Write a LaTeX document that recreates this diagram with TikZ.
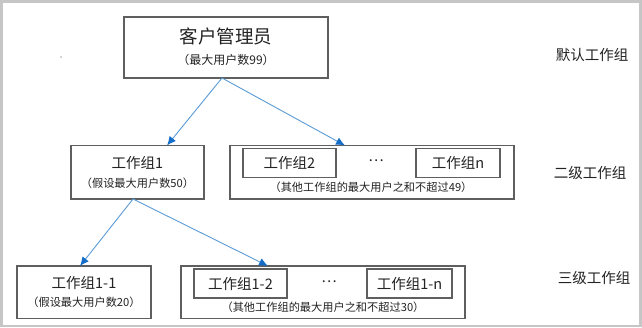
\documentclass[tikz,border=0pt]{standalone}
\usepackage{fontspec}
\setmainfont{Noto Sans CJK SC}
\usetikzlibrary{arrows.meta}
\definecolor{framegray}{RGB}{198,198,198}
\definecolor{boxgray}{RGB}{95,95,95}
\definecolor{lineblue}{RGB}{91,155,213}
\definecolor{headblue}{RGB}{20,110,200}
\definecolor{txt}{RGB}{35,35,35}
\begin{document}
\begin{tikzpicture}[x=1pt,y=-1pt,
  box/.style={draw=boxgray,line width=1.2pt,inner sep=0pt,outer sep=0pt},
  inbox/.style={draw=boxgray,line width=1.1pt,inner sep=0pt,outer sep=0pt,minimum height=29pt},
  title/.style={text=txt,inner sep=0pt,font=\fontsize{14.5}{16}\selectfont},
  bigtitle/.style={text=txt,inner sep=0pt,font=\fontsize{18.5}{20}\selectfont},
  sub/.style={text=txt,inner sep=0pt,font=\fontsize{11.2}{12}\selectfont},
  topsubst/.style={text=txt,inner sep=0pt,font=\fontsize{12}{13}\selectfont},
  side/.style={text=txt,inner sep=0pt,font=\fontsize{14.5}{16}\selectfont},
  arr/.style={draw=lineblue,line width=0.9pt,-{Latex[length=9pt,width=8pt,color=headblue]}}
]
\useasboundingbox (0,0) rectangle (642,327);
\fill[framegray] (0,0) rectangle (642,327);
\fill[white] (3,3) rectangle (639,324.5);
\fill[black!70] (61,57) circle (0.6);

% level 1
\node[box,minimum width=204pt,minimum height=61pt] (top) at (226,47.5) {};
\node[bigtitle] (toptitle) at (226,36) {客户管理员};
\node[topsubst] (topsub) at (226,60) {（最大用户数99）};
\node[side] (lab1) at (592,55) {默认工作组};

% level 2
\node[box,minimum width=133pt,minimum height=53.5pt] (g1) at (137.5,172.25) {};
\node[title] (g1title) at (137.5,163) {工作组1};
\node[sub] (g1sub) at (137.5,183) {（假设最大用户数50）};

\node[box,minimum width=284pt,minimum height=53.5pt] (grp2) at (372,172.25) {};
\node[inbox,minimum width=93pt] (g2) at (289.5,163) {};
\node[title] (g2title) at (289.5,163) {工作组2};
\node[title] (dots2) at (376,161) {…};
\node[inbox,minimum width=84pt] (gn) at (458,163) {};
\node[title] (gntitle) at (458,163) {工作组n};
\node[sub] (grp2sub) at (371,187) {（其他工作组的最大用户之和不超过49）};
\node[side] (lab2) at (590,173) {二级工作组};

% level 3
\node[box,minimum width=134pt,minimum height=52.5pt] (g11) at (84,292.25) {};
\node[title] (g11title) at (84,283) {工作组1-1};
\node[sub] (g11sub) at (84,302) {（假设最大用户数20）};

\node[box,minimum width=284pt,minimum height=52.5pt] (grp3) at (323,292.25) {};
\node[inbox,minimum width=93pt] (g12) at (240.5,283.5) {};
\node[title] (g12title) at (240.5,283.5) {工作组1-2};
\node[title] (dots3) at (329,281.5) {…};
\node[inbox,minimum width=85pt] (g1n) at (409.5,283.5) {};
\node[title] (g1ntitle) at (409.5,283.5) {工作组1-n};
\node[sub] (grp3sub) at (323,307) {（其他工作组的最大用户之和不超过30）};
\node[side] (lab3) at (594,278) {三级工作组};

% connectors
\draw[arr] ([xshift=-4pt]top.south) -- ([xshift=29.5pt]g1.north);
\draw[arr] ([xshift=-4pt]top.south) -- ([xshift=-27pt]grp2.north);
\draw[arr] ([xshift=-4.5pt]g1.south) -- ([xshift=-4pt]g11.north);
\draw[arr] ([xshift=-4.5pt]g1.south) -- ([xshift=-55pt]grp3.north);
\end{tikzpicture}
\end{document}
